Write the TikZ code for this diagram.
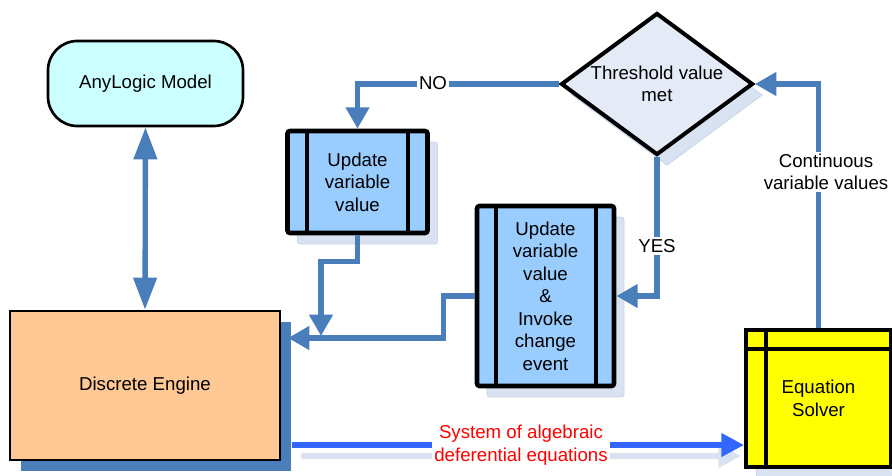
\documentclass[tikz,border=0pt]{standalone}
\usepackage{fontspec}
\setmainfont{Liberation Sans}
\usetikzlibrary{shapes.geometric,shadows,arrows.meta,calc}
\definecolor{linkblue}{HTML}{4A7EBB}
\definecolor{brightblue}{HTML}{3366FF}
\definecolor{shc}{HTML}{D9E2F1}
\definecolor{shedge}{HTML}{C9D6EA}
\definecolor{anyc}{HTML}{CCFFFF}
\definecolor{dec}{HTML}{FFC895}
\definecolor{procc}{HTML}{99CCFF}
\definecolor{diac}{HTML}{E4EBF6}
\definecolor{eqc}{HTML}{FFFF00}
\tikzset{
  txt/.style={font=\fontsize{14}{16.9}\selectfont, align=center},
  link/.style={draw=linkblue, line width=4pt, -{Triangle[length=16pt,width=17pt]}},
  bottomlink/.style={draw=brightblue, line width=3.8pt, -{Triangle[length=17pt,width=17pt]}},
  litshadow/.style={general shadow={shadow xshift=7.5pt, shadow yshift=-8.25pt, fill=shc, draw=shedge, line width=0.6pt}},
  procbox/.style={txt, draw=black, line width=3.5pt, fill=procc, rounded corners=2pt, inner sep=0, litshadow},
  innerline/.style={draw=black, line width=3pt},
  lbl/.style={txt, fill=white, inner sep=1.5pt}
}
\begin{document}
\begin{tikzpicture}[x=0.75pt,y=-0.75pt]
\useasboundingbox (0,0) rectangle (892,475);
\coordinate (deout) at (292,445);
\coordinate (shs) at (303,456);
\coordinate (she) at (741,456);
\draw[shc, line width=3.8pt, line cap=round, -{Triangle[length=17pt,width=17pt]}] (shs) -- (she);

% nodes
\node[txt, draw=black, line width=2pt, fill=anyc, rounded corners=22pt, minimum width=146.25pt, minimum height=63.75pt, inner sep=0] (any) at (145.5,83.5) {AnyLogic Model};
\node[txt, draw=black, line width=2pt, fill=dec, minimum width=202.5pt, minimum height=111.75pt, inner sep=0, general shadow={shadow xshift=8.25pt, shadow yshift=-8.25pt, fill=linkblue, draw=none}] (de) at (145,385.5) {Discrete Engine};
\node[procbox, minimum width=105pt, minimum height=76.5pt] (upd1) at (357.5,182) {Update\\variable\\value};
\node[procbox, minimum width=102.75pt, minimum height=135pt] (upd2) at (545.5,296) {Update\\variable\\value\\\&\\Invoke\\change\\event};
\node[diamond, draw=black, line width=3pt, fill=diac, minimum width=144pt, minimum height=106.5pt, inner sep=0, litshadow] (dia) at (657,84) {};
\node[txt] (diat) at (657,84) {Threshold value\\met};
\node[txt, draw=black, line width=3pt, fill=eqc, minimum width=108.75pt, minimum height=102.75pt, inner sep=0, litshadow] (eq) at (818.5,398.5) {Equation\\Solver};

% inner lines
\draw[innerline] ($(upd1.north west)+(22,0)$) -- ($(upd1.south west)+(22,0)$);
\draw[innerline] ($(upd1.north east)+(-22,0)$) -- ($(upd1.south east)+(-22,0)$);
\draw[innerline] ($(upd2.north west)+(21,0)$) -- ($(upd2.south west)+(21,0)$);
\draw[innerline] ($(upd2.north east)+(-20,0)$) -- ($(upd2.south east)+(-20,0)$);
\draw[innerline] ($(eq.north west)+(0,21)$) -- ($(eq.north east)+(0,21)$);
\draw[innerline] ($(eq.north west)+(22,0)$) -- ($(eq.south west)+(22,0)$);

% connectors
\coordinate (jn) at (321,336);
\coordinate (dein) at (288,338);
\draw[link, {Triangle[length=24pt,width=17pt]}-{Triangle[length=24pt,width=17pt]}] (any.south) -- (de.north);
\draw[link] (dia.west) -| (upd1.north);
\draw[link] (dia.south) |- (upd2.east);
\draw[link] (eq.north) |- (dia.east);
\draw[link] (upd1.south) -- ++(0,26) -| (jn);
\draw[link] (upd2.west) -- ++(-31,0) |- (dein);
\draw[bottomlink] (deout) -- (eq.west |- deout);

% labels
\node[lbl] (lno) at (433,83) {NO};
\node[lbl] (lyes) at (657,246) {YES};
\node[lbl] (lcont) at (826,172) {Continuous\\variable values};
\node[lbl, text=red] (lsys) at (521,445) {System of algebraic\\deferential equations};
\end{tikzpicture}
\end{document}
